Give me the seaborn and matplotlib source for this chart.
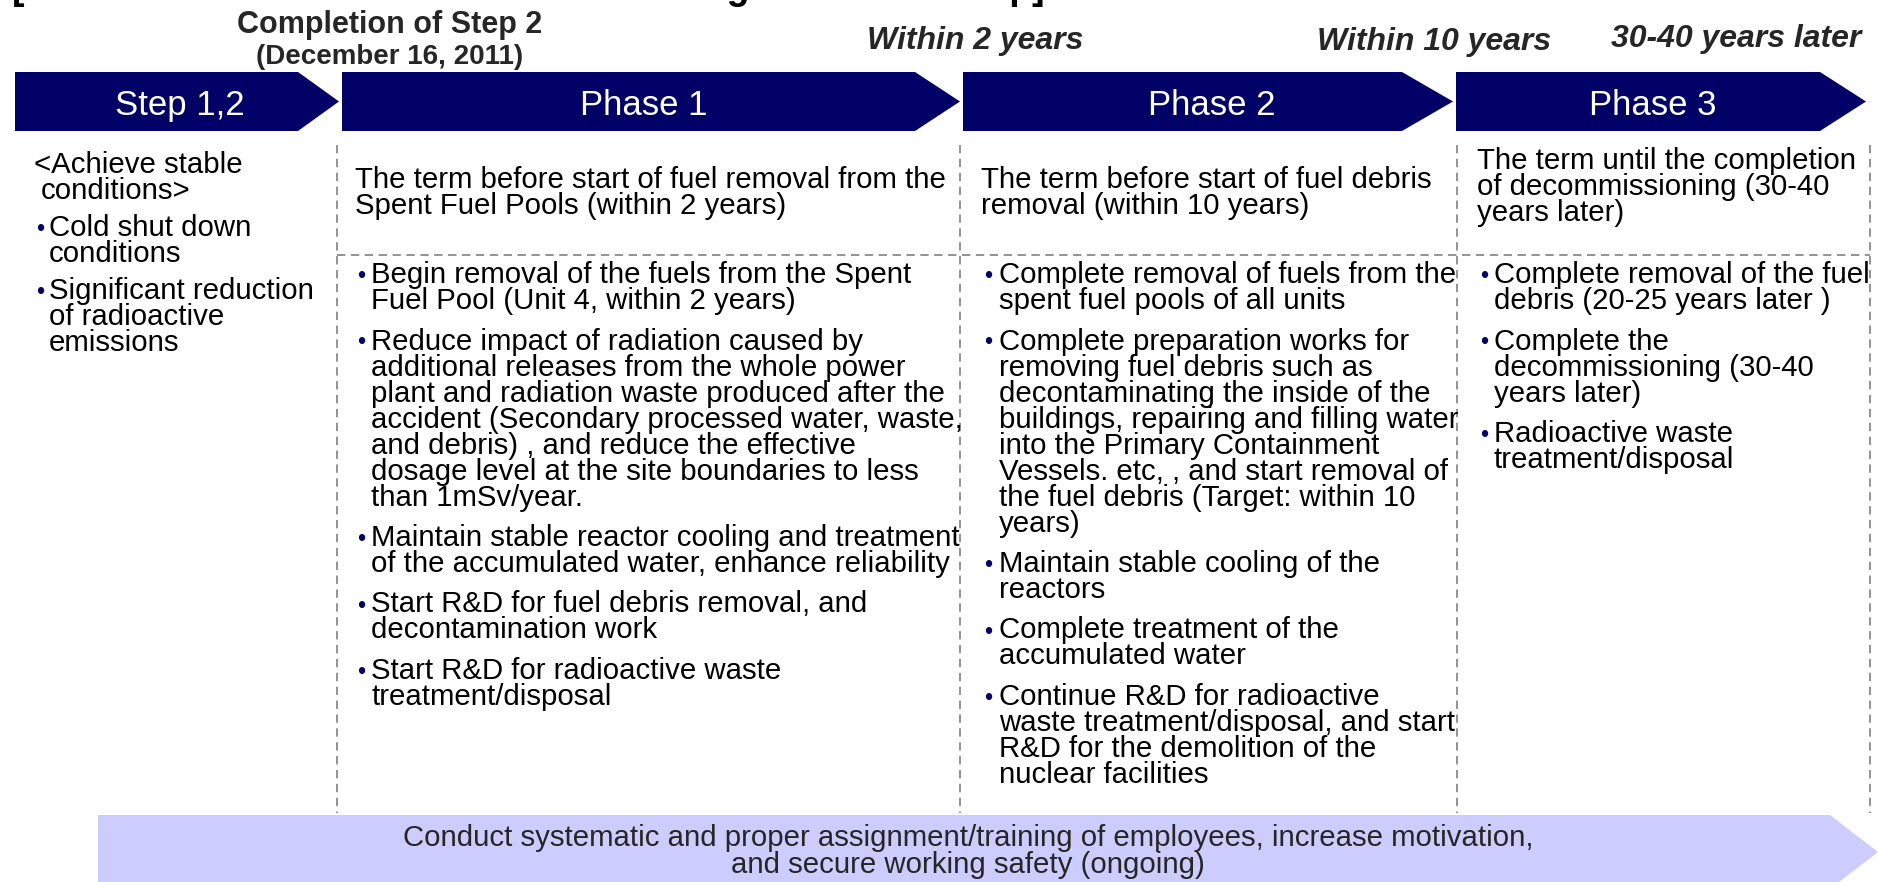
import matplotlib
matplotlib.use("Agg")
import matplotlib.pyplot as plt
import seaborn as sns
from matplotlib.patches import Polygon

sns.set_theme(style="white")
plt.rcParams['font.family'] = ['Liberation Sans', 'DejaVu Sans']
plt.rcParams['lines.scale_dashes'] = False

# ---------------- content ----------------
title_text = "[Overview of Phases of the Mid-and-Long-Term Roadmap]"
milestone_top = ["Completion of Step 2", "(December 16, 2011)"]
milestones = ["Within 2 years", "Within 10 years", "30-40 years later"]
phases = ["Step 1,2", "Phase 1", "Phase 2", "Phase 3"]

step_header = ["<Achieve stable", "conditions>"]
step_bullets = [["Cold shut down", "conditions"],
                ["Significant reduction", "of radioactive", "emissions"]]

phase_headers = [
    ["The term before start of fuel removal from the", "Spent Fuel Pools (within 2 years)"],
    ["The term before start of fuel debris", "removal (within 10 years)"],
    ["The term until the completion", "of decommissioning (30-40", "years later)"],
]
phase1_bullets = [
    ["Begin removal of the fuels from the Spent", "Fuel Pool (Unit 4, within 2 years)"],
    ["Reduce impact of radiation caused by", "additional releases from the whole power",
     "plant and radiation waste produced after the", "accident (Secondary processed water, waste,",
     "and debris) , and reduce the effective", "dosage level at the site boundaries to less",
     "than 1mSv/year."],
    ["Maintain stable reactor cooling and treatment", "of the accumulated water, enhance reliability"],
    ["Start R&D for fuel debris removal, and", "decontamination work"],
    ["Start R&D for radioactive waste", "treatment/disposal"],
]
phase2_bullets = [
    ["Complete removal of fuels from the", "spent fuel pools of all units"],
    ["Complete preparation works for", "removing fuel debris such as",
     "decontaminating the inside of the", "buildings, repairing and filling water",
     "into the Primary Containment", "Vessels. etc, , and start removal of",
     "the fuel debris (Target: within 10", "years)"],
    ["Maintain stable cooling of the", "reactors"],
    ["Complete treatment of the", "accumulated water"],
    ["Continue R&D for radioactive", "waste treatment/disposal, and start",
     "R&D for the demolition of the", "nuclear facilities"],
]
phase3_bullets = [
    ["Complete removal of the fuel", "debris (20-25 years later )"],
    ["Complete the", "decommissioning (30-40", "years later)"],
    ["Radioactive waste", "treatment/disposal"],
]
band_text = ["Conduct systematic and proper assignment/training of employees, increase motivation,",
             "and secure working safety (ongoing)"]

# ---------------- style / layout ----------------
NAVY = "#000066"
BAND = "#CCCCFF"
GRAY = "#808080"
W, H = 1878, 882
FS = 21.2        # body font size (pt)
L = 26           # body line step (px)
G = 40.5         # step from last line of a bullet to first line of next
BASE = 9         # center -> baseline offset (px)

fig = plt.figure(figsize=(W / 100, H / 100), dpi=100)
ax = fig.add_axes([0, 0, 1, 1])
ax.set_xlim(0, W)
ax.set_ylim(H, 0)
ax.axis("off")

# title that is cropped by the top edge (only descenders visible)
ax.text(12, -1, title_text, fontsize=27, fontweight="bold", color="black",
        ha="left", va="baseline")

# top annotations
ax.text(390, 25, milestone_top[0], fontsize=22, fontweight="bold", ha="center", va="center")
ax.text(390, 57, milestone_top[1], fontsize=20, fontweight="bold", ha="center", va="center")
ms_x = [975, 1434, 1736]
ms_y = [41, 42, 39]
for t, x, y in zip(milestones, ms_x, ms_y):
    ax.text(x, y, t, fontsize=23, fontweight="bold", fontstyle="italic", ha="center", va="center")

# phase arrows
arrow_geom = [(15, 298, 339), (342, 915, 960), (963, 1402, 1453), (1456, 1820, 1866)]
label_x = [180, 644, 1212, 1653]
top, bot = 72, 131
for name, (x0, x1, x2), lx in zip(phases, arrow_geom, label_x):
    ax.add_patch(Polygon([(x0, top), (x1, top), (x2, (top + bot) / 2), (x1, bot), (x0, bot)],
                         closed=True, facecolor=NAVY, edgecolor="none"))
    ax.text(lx, (top + bot) / 2 + 4, name, color="white", fontsize=25,
            ha="center", va="center")

# dashed grid
for x in [337, 960, 1457, 1870]:
    ax.plot([x, x], [145, 813], color=GRAY, lw=1.2, dashes=(6, 4))
ax.plot([337, 1870], [255, 255], color=GRAY, lw=1.2, dashes=(6, 4))


def line(x, y, s, **kw):
    ax.text(x, y + BASE, s, fontsize=FS, ha="left", va="baseline", color="black", **kw)


def bullets(xdot, xtext, y0, items, step=L, gap=G):
    y = y0
    for item in items:
        ax.text(xdot, y + BASE, "\u2022", fontsize=17, color=NAVY, ha="left", va="baseline")
        for i, s in enumerate(item):
            line(xtext, y, s)
            if i < len(item) - 1:
                y += step
        y += gap


# step column
SG = 37
line(34, 164, step_header[0])
line(41, 164 + L, step_header[1])
bullets(36, 49, 164 + L + SG, step_bullets, step=L, gap=SG)

# phase columns
hdr_x = [355, 981, 1477]
hdr_y0 = [179, 179, 160]
dot_x = [357, 984, 1480]
txt_x = [371, 999, 1494]
for hx, hy, lines_ in zip(hdr_x, hdr_y0, phase_headers):
    for i, s in enumerate(lines_):
        line(hx, hy + i * L, s)
for dx, tx, items in zip(dot_x, txt_x, [phase1_bullets, phase2_bullets, phase3_bullets]):
    bullets(dx, tx, 274, items)

# bottom band arrow
ax.add_patch(Polygon([(98, 815), (1830, 815), (1878, 852), (1830, 889), (98, 889)],
                     closed=True, facecolor=BAND, edgecolor="none"))
ax.text(968, 838, band_text[0], fontsize=FS, ha="center", va="center")
ax.text(968, 865, band_text[1], fontsize=FS, ha="center", va="center")

fig.savefig("out.png", dpi=100)
